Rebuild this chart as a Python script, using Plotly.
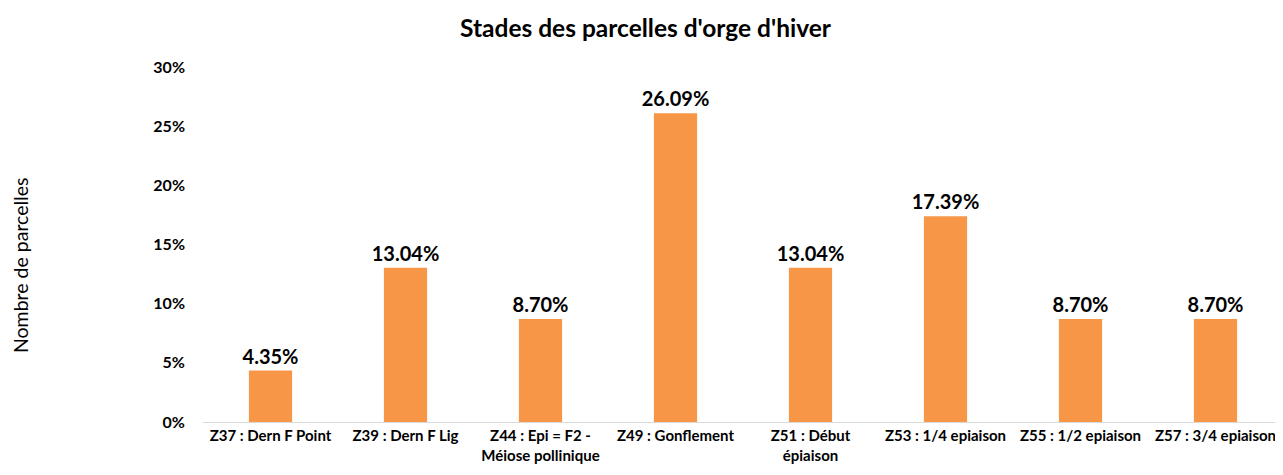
import plotly.graph_objects as go

categories = ["Z37 : Dern F Point", "Z39 : Dern F Lig", "Z44 : Epi = F2 -<br>Méiose pollinique",
              "Z49 : Gonflement", "Z51 : Début<br>épiaison", "Z53 : 1/4 epiaison",
              "Z55 : 1/2 epiaison", "Z57 : 3/4 epiaison"]
values = [4.35, 13.04, 8.70, 26.09, 13.04, 17.39, 8.70, 8.70]
tick_vals = [0, 5, 10, 15, 20, 25, 30]
tick_text = ["0%", "5%", "10%", "15%", "20%", "25%", "30%"]

FONT = "Lato, Open Sans, sans-serif"

fig = go.Figure(go.Bar(
    x=categories, y=values,
    marker=dict(color="#F79646", line=dict(width=0)),
    width=0.32,
    text=[f"{v:.2f}%" for v in values],
    textposition="outside",
    constraintext="none",
    cliponaxis=False,
    textfont=dict(family=FONT, size=20, color="#000000", weight="bold"),
))

fig.update_layout(
    width=1275, height=467,
    margin=dict(l=195, r=0, t=59, b=53),
    paper_bgcolor="white", plot_bgcolor="white",
    title=dict(text="<b>Stades des parcelles d'orge d'hiver</b>", x=0.5, xanchor="center",
               y=0.957, yanchor="middle", font=dict(family=FONT, size=24.5, color="#000000")),
    showlegend=False,
    font=dict(family=FONT, color="#000000"),
)
fig.update_xaxes(
    showline=True, linecolor="#D9D9D9", linewidth=1, showgrid=False, ticks="",
    tickfont=dict(family=FONT, size=15, color="#000000", weight="bold"),
)
fig.update_yaxes(
    range=[0, 30], tickvals=tick_vals, ticktext=tick_text, showgrid=False, zeroline=False,
    showline=False, ticks="", ticklabelstandoff=17,
    tickfont=dict(family=FONT, size=16, color="#000000", weight="bold"),
)
fig.add_annotation(text="Nombre de parcelles", xref="paper", yref="paper", x=-0.1695, y=0.442,
                   textangle=-90, showarrow=False, xanchor="center", yanchor="middle",
                   font=dict(family=FONT, size=19.5, color="#000000"))

fig.write_html("out.html")
